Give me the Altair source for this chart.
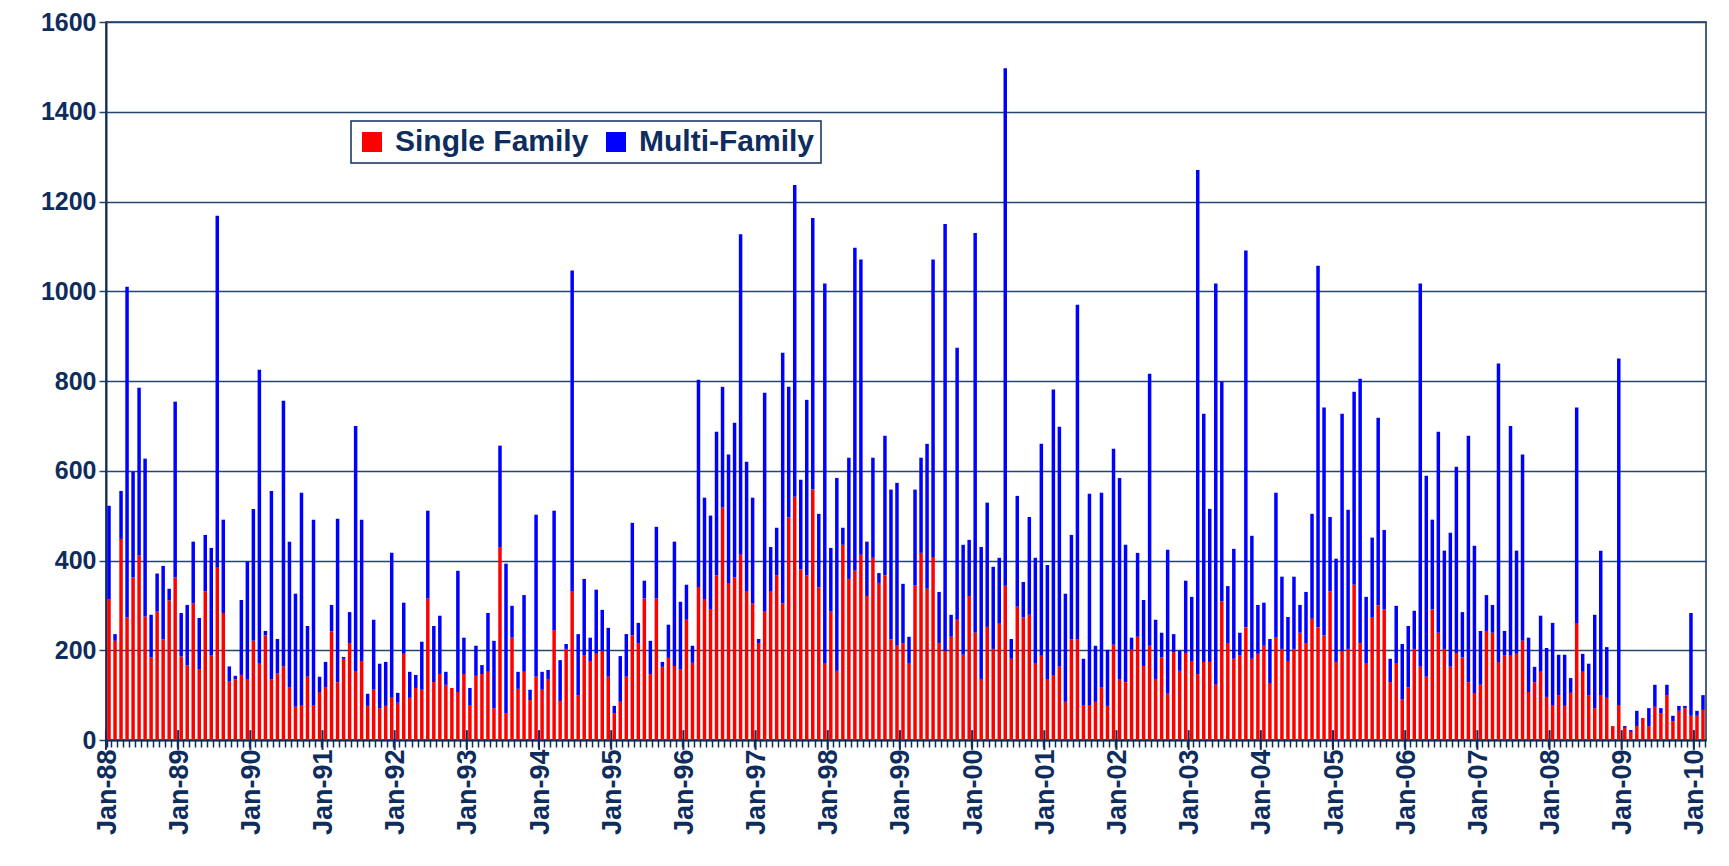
import altair as alt
import pandas as pd

MONTHS = ["Jan", "Feb", "Mar", "Apr", "May", "Jun", "Jul", "Aug", "Sep", "Oct", "Nov", "Dec"]
YEARS = ["88", "89", "90", "91", "92", "93", "94", "95", "96", "97", "98", "99",
         "00", "01", "02", "03", "04", "05", "06", "07", "08", "09", "10"]

single_family = [
    # 1988
    314, 221, 448, 273, 362, 411, 275, 184, 286, 224, 311, 362,
    # 1989
    186, 166, 304, 158, 331, 188, 384, 283, 130, 135, 145, 136,
    # 1990
    221, 170, 233, 135, 148, 164, 118, 74, 78, 141, 78, 107,
    # 1991
    118, 242, 129, 181, 216, 152, 176, 76, 112, 71, 76, 96,
    # 1992
    83, 192, 94, 116, 112, 315, 129, 147, 123, 116, 107, 147,
    # 1993
    78, 143, 147, 152, 71, 430, 60, 228, 114, 152, 89, 141,
    # 1994
    112, 136, 245, 87, 203, 332, 100, 188, 176, 192, 199, 141,
    # 1995
    60, 85, 141, 233, 216, 315, 147, 315, 163, 183, 165, 158,
    # 1996
    268, 172, 341, 314, 292, 367, 518, 350, 362, 413, 332, 304,
    # 1997
    216, 286, 332, 367, 304, 496, 542, 380, 367, 558, 340, 170,
    # 1998
    286, 154, 435, 359, 377, 413, 321, 406, 350, 367, 224, 210,
    # 1999
    216, 170, 344, 417, 337, 408, 216, 199, 230, 268, 190, 321,
    # 2000
    239, 136, 252, 203, 259, 344, 181, 297, 273, 279, 170, 188,
    # 2001
    136, 145, 163, 85, 224, 225, 78, 78, 85, 118, 76, 212,
    # 2002
    134, 129, 201, 230, 165, 210, 136, 184, 103, 196, 154, 194,
    # 2003
    176, 147, 174, 174, 123, 309, 216, 181, 188, 251, 181, 192,
    # 2004
    210, 127, 228, 203, 176, 203, 239, 216, 270, 251, 233, 331,
    # 2005
    174, 199, 203, 346, 216, 170, 274, 300, 291, 129, 170, 90,
    # 2006
    117, 203, 163, 141, 291, 239, 203, 163, 194, 184, 129, 105,
    # 2007
    123, 243, 239, 174, 188, 188, 192, 221, 107, 129, 152, 96,
    # 2008
    78, 100, 76, 105, 261, 152, 100, 71, 100, 94, 31, 78,
    # 2009
    27, 18, 31, 49, 31, 74, 60, 100, 42, 65, 71, 54,
    # 2010
    54, 67,
]

multi_family = [
    # 1988
    208, 15, 107, 737, 236, 374, 352, 95, 85, 164, 26, 392,
    # 1989
    97, 135, 138, 114, 126, 240, 784, 208, 34, 8, 167, 262,
    # 1990
    294, 655, 10, 420, 77, 592, 324, 252, 473, 113, 413, 34,
    # 1991
    56, 59, 364, 4, 69, 548, 315, 27, 156, 99, 98, 321,
    # 1992
    22, 114, 58, 29, 107, 196, 125, 130, 29, 0, 270, 81,
    # 1993
    38, 67, 20, 131, 150, 226, 333, 71, 38, 171, 23, 361,
    # 1994
    40, 20, 266, 91, 11, 714, 136, 171, 52, 143, 91, 109,
    # 1995
    16, 102, 95, 251, 45, 40, 74, 160, 11, 74, 277, 150,
    # 1996
    78, 38, 462, 226, 208, 320, 269, 286, 345, 714, 288, 236,
    # 1997
    9, 488, 98, 106, 559, 291, 695, 200, 391, 605, 164, 847,
    # 1998
    142, 430, 38, 270, 720, 658, 121, 223, 22, 311, 334, 363,
    # 1999
    132, 60, 214, 212, 323, 663, 114, 951, 49, 606, 245, 125,
    # 2000
    891, 294, 277, 183, 147, 1153, 44, 247, 79, 218, 236, 472,
    # 2001
    254, 636, 535, 241, 233, 745, 103, 471, 125, 433, 125, 437,
    # 2002
    450, 306, 27, 187, 147, 606, 132, 55, 321, 40, 45, 161,
    # 2003
    143, 1123, 553, 341, 894, 490, 127, 245, 51, 840, 274, 109,
    # 2004
    96, 98, 323, 161, 98, 161, 62, 114, 234, 806, 508, 166,
    # 2005
    230, 528, 310, 430, 589, 149, 177, 418, 177, 52, 129, 124,
    # 2006
    137, 85, 854, 448, 200, 448, 219, 299, 415, 101, 549, 328,
    # 2007
    120, 80, 62, 665, 55, 512, 230, 415, 121, 34, 125, 109,
    # 2008
    183, 90, 114, 33, 480, 40, 70, 208, 322, 113, 0, 772,
    # 2009
    4, 4, 34, 0, 40, 49, 11, 23, 12, 11, 5, 229,
    # 2010
    11, 33,
]

SERIES = ["Single Family", "Multi-Family"]
COLORS = ["#FF0000", "#0000FF"]
Y_TICKS = [0, 200, 400, 600, 800, 1000, 1200, 1400, 1600]

labels = [f"{m}-{y}" for y in YEARS for m in MONTHS][: len(single_family)]
jan_labels = [lab for lab in labels if lab.startswith("Jan")]

rows = []
for i, lab in enumerate(labels):
    rows.append({"month": lab, "series": SERIES[0], "value": single_family[i], "ord": 0})
    rows.append({"month": lab, "series": SERIES[1], "value": multi_family[i], "ord": 1})
df = pd.DataFrame(rows)
df_jan = pd.DataFrame({"month": jan_labels, "lo": [-22] * len(jan_labels), "hi": [22] * len(jan_labels)})

NAVY = "#0F2D5C"
GRID = "#24466E"
FONT = "Liberation Sans"

x_enc = alt.X(
    "month:O",
    sort=labels,
    scale=alt.Scale(paddingInner=0.42, paddingOuter=0.21),
    axis=alt.Axis(
        title=None,
        labelAngle=270,
        labelExpr="(isString(datum.value) && indexof(datum.value, 'Jan') === 0) ? datum.value : ''",
        labelOverlap=False,
        labelFont=FONT,
        labelFontSize=27,
        labelFontWeight="bold",
        labelColor=NAVY,
        labelPadding=2,
        labelOffset=-2,
        tickBand="extent",
        tickColor=NAVY,
        tickWidth=1.5,
        tickSize=7,
        domainColor=NAVY,
        domainWidth=2,
        grid=False,
    ),
)

bars = (
    alt.Chart(df)
    .mark_bar()
    .encode(
        x=x_enc,
        y=alt.Y(
            "value:Q",
            stack="zero",
            scale=alt.Scale(domain=[0, 1600], nice=False),
            axis=alt.Axis(
                title=None,
                values=Y_TICKS,
                format="d",
                labelFont=FONT,
                labelFontSize=25,
                labelFontWeight="bold",
                labelColor=NAVY,
                labelPadding=3,
                tickColor=GRID,
                tickSize=7,
                tickWidth=1.5,
                domainColor=NAVY,
                domainWidth=2,
                grid=True,
                gridColor=GRID,
                gridWidth=1.5,
            ),
        ),
        color=alt.Color(
            "series:N",
            scale=alt.Scale(domain=SERIES, range=COLORS),
            legend=alt.Legend(
                title=None,
                orient="none",
                legendX=245,
                legendY=99,
                direction="horizontal",
                symbolType="square",
                symbolSize=400,
                symbolStrokeWidth=0,
                labelFont=FONT,
                labelFontSize=30,
                labelFontWeight="bold",
                labelColor=NAVY,
                labelLimit=500,
                labelOffset=8,
                columnPadding=12,
                padding=6,
                fillColor="white",
                strokeColor=NAVY,
            ),
        ),
        order=alt.Order("ord:Q"),
    )
)

major_ticks = (
    alt.Chart(df_jan)
    .mark_rule(color=NAVY, strokeWidth=2)
    .encode(
        x=alt.X("month:O", sort=labels, bandPosition=0),
        xOffset=alt.value(-1.3),
        y=alt.Y("lo:Q"),
        y2="hi:Q",
    )
)

chart = (
    alt.layer(bars, major_ticks)
    .properties(
        width=1600,
        height=718,
        autosize=alt.AutoSizeParams(type="none"),
        padding={"left": 98, "top": 14, "right": 15, "bottom": 112},
    )
    .configure_view(stroke=NAVY, strokeWidth=1.5)
    .configure_legend(strokeWidth=1.5)
)

chart.save("out.html", embed_options={"renderer": "svg", "actions": False})
